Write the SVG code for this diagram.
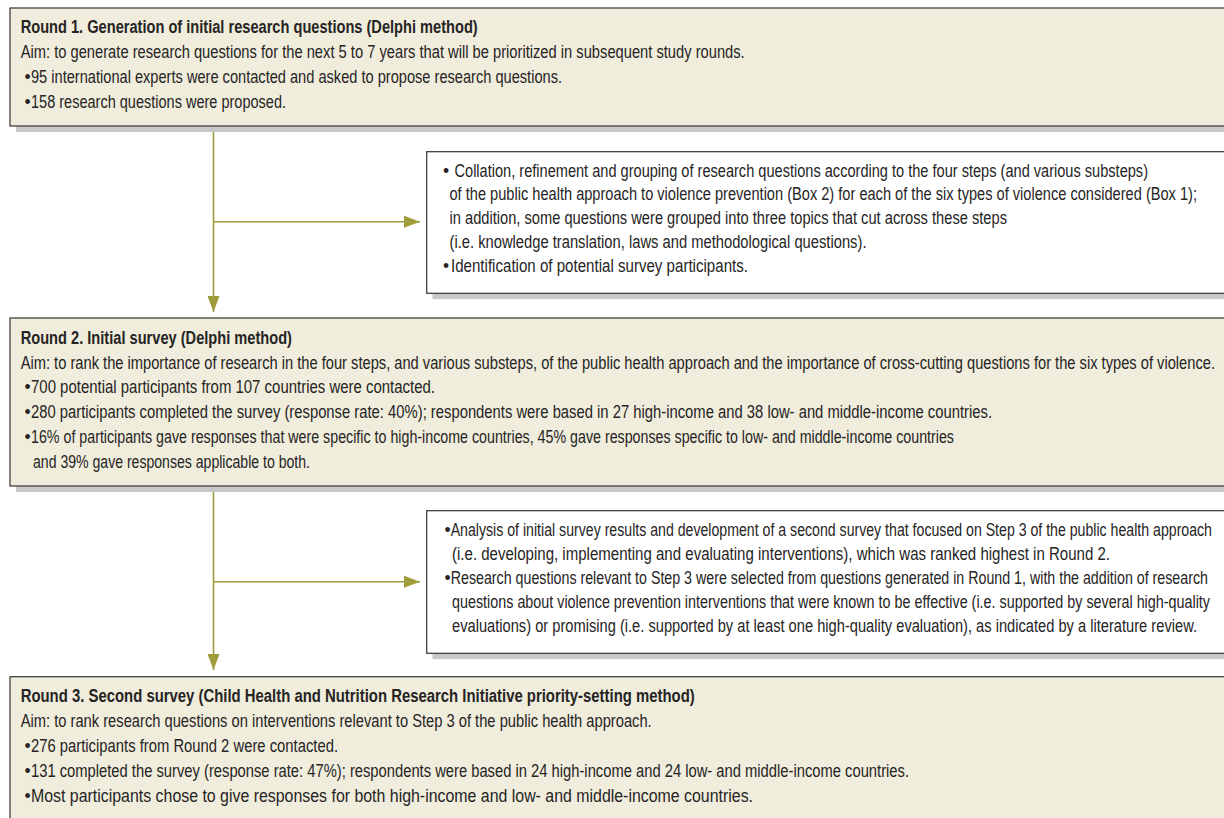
<svg xmlns="http://www.w3.org/2000/svg" width="1224" height="818" viewBox="0 0 1224 818">
<defs>
<style>
.round{fill:#f0eddc;stroke:#333333;stroke-width:1.2}
.side{fill:#ffffff;stroke:#333333;stroke-width:1.2}
.shadow{fill:#c8c8c8}
.t{font-family:"Liberation Sans",Arial,sans-serif;font-size:17.5px;fill:#262424}
.b{font-weight:bold}
.conn{stroke:#a09c3c;stroke-width:1.6;fill:none}
</style>
<marker id="ah" markerUnits="userSpaceOnUse" markerWidth="16" markerHeight="12" refX="16" refY="6" orient="auto" viewBox="0 0 16 12">
<path d="M0,0 L16,6 L0,12 z" fill="#a09c3c"/>
</marker>
</defs>
<rect width="1224" height="818" fill="#ffffff"/>

<g id="connectors">
<line class="conn" x1="213.5" y1="132" x2="213.5" y2="312" marker-end="url(#ah)"/>
<line class="conn" x1="213.5" y1="221.7" x2="420" y2="221.7" marker-end="url(#ah)"/>
<line class="conn" x1="213.5" y1="492" x2="213.5" y2="670" marker-end="url(#ah)"/>
<line class="conn" x1="213.5" y1="581.7" x2="420" y2="581.7" marker-end="url(#ah)"/>
</g>

<g id="round1">
<rect class="shadow" x="16" y="14" width="1230" height="118"/>
<rect class="round" x="10" y="8" width="1230" height="118"/>
<text class="t b" x="20.7" y="33" textLength="457" lengthAdjust="spacingAndGlyphs">Round 1. Generation of initial research questions (Delphi method)</text>
<text class="t" x="20.7" y="58" textLength="724" lengthAdjust="spacingAndGlyphs">Aim: to generate research questions for the next 5 to 7 years that will be prioritized in subsequent study rounds.</text>
<text class="t" y="83"><tspan x="24.5">•</tspan><tspan x="31" textLength="531" lengthAdjust="spacingAndGlyphs">95 international experts were contacted and asked to propose research questions.</tspan></text>
<text class="t" y="108"><tspan x="24.5">•</tspan><tspan x="31" textLength="255" lengthAdjust="spacingAndGlyphs">158 research questions were proposed.</tspan></text>
</g>

<g id="step1">
<rect class="shadow" x="432.5" y="157.5" width="800" height="141.6"/>
<rect class="side" x="426.7" y="151.7" width="800" height="141.6"/>
<text class="t" y="176.5"><tspan x="443">•</tspan><tspan x="454.5" textLength="693.5" lengthAdjust="spacingAndGlyphs">Collation, refinement and grouping of research questions according to the four steps (and various substeps)</tspan></text>
<text class="t" x="449.5" y="200.3" textLength="747.5" lengthAdjust="spacingAndGlyphs">of the public health approach to violence prevention (Box 2) for each of the six types of violence considered (Box 1);</text>
<text class="t" x="449.5" y="224.1" textLength="557.5" lengthAdjust="spacingAndGlyphs">in addition, some questions were grouped into three topics that cut across these steps</text>
<text class="t" x="449.5" y="247.9" textLength="417" lengthAdjust="spacingAndGlyphs">(i.e. knowledge translation, laws and methodological questions).</text>
<text class="t" y="271.7"><tspan x="443">•</tspan><tspan x="451" textLength="297" lengthAdjust="spacingAndGlyphs">Identification of potential survey participants.</tspan></text>
</g>

<g id="round2">
<rect class="shadow" x="16" y="324" width="1230" height="168"/>
<rect class="round" x="10" y="318" width="1230" height="168"/>
<text class="t b" x="20.7" y="344" textLength="271.3" lengthAdjust="spacingAndGlyphs">Round 2. Initial survey (Delphi method)</text>
<text class="t" x="20.7" y="368.5" textLength="1194.3" lengthAdjust="spacingAndGlyphs">Aim: to rank the importance of research in the four steps, and various substeps, of the public health approach and the importance of cross-cutting questions for the six types of violence.</text>
<text class="t" y="393"><tspan x="24.5">•</tspan><tspan x="31" textLength="404" lengthAdjust="spacingAndGlyphs">700 potential participants from 107 countries were contacted.</tspan></text>
<text class="t" y="418"><tspan x="24.5">•</tspan><tspan x="31" textLength="961" lengthAdjust="spacingAndGlyphs">280 participants completed the survey (response rate: 40%); respondents were based in 27 high-income and 38 low- and middle-income countries.</tspan></text>
<text class="t" y="443"><tspan x="24.5">•</tspan><tspan x="31" textLength="923" lengthAdjust="spacingAndGlyphs">16% of participants gave responses that were specific to high-income countries, 45% gave responses specific to low- and middle-income countries</tspan></text>
<text class="t" x="33" y="468" textLength="277" lengthAdjust="spacingAndGlyphs">and 39% gave responses applicable to both.</text>
</g>

<g id="step2">
<rect class="shadow" x="432.5" y="516.5" width="800" height="142.6"/>
<rect class="side" x="426.7" y="510.7" width="800" height="142.6"/>
<text class="t" y="536"><tspan x="444.5">•</tspan><tspan x="450.7" textLength="761.3" lengthAdjust="spacingAndGlyphs">Analysis of initial survey results and development of a second survey that focused on Step 3 of the public health approach</tspan></text>
<text class="t" x="452" y="560" textLength="658" lengthAdjust="spacingAndGlyphs">(i.e. developing, implementing and evaluating interventions), which was ranked highest in Round 2.</text>
<text class="t" y="584"><tspan x="444.5">•</tspan><tspan x="450.7" textLength="757.3" lengthAdjust="spacingAndGlyphs">Research questions relevant to Step 3 were selected from questions generated in Round 1, with the addition of research</tspan></text>
<text class="t" x="452" y="608" textLength="758" lengthAdjust="spacingAndGlyphs">questions about violence prevention interventions that were known to be effective (i.e. supported by several high-quality</text>
<text class="t" x="452" y="632" textLength="745" lengthAdjust="spacingAndGlyphs">evaluations) or promising (i.e. supported by at least one high-quality evaluation), as indicated by a literature review.</text>
</g>

<g id="round3">
<rect class="shadow" x="16" y="682.7" width="1230" height="160"/>
<rect class="round" x="10" y="676.7" width="1230" height="160"/>
<text class="t b" x="20.7" y="702" textLength="674" lengthAdjust="spacingAndGlyphs">Round 3. Second survey (Child Health and Nutrition Research Initiative priority-setting method)</text>
<text class="t" x="20.7" y="727" textLength="631" lengthAdjust="spacingAndGlyphs">Aim: to rank research questions on interventions relevant to Step 3 of the public health approach.</text>
<text class="t" y="752"><tspan x="24.5">•</tspan><tspan x="31" textLength="307" lengthAdjust="spacingAndGlyphs">276 participants from Round 2 were contacted.</tspan></text>
<text class="t" y="777"><tspan x="24.5">•</tspan><tspan x="31" textLength="878" lengthAdjust="spacingAndGlyphs">131 completed the survey (response rate: 47%); respondents were based in 24 high-income and 24 low- and middle-income countries.</tspan></text>
<text class="t" y="802"><tspan x="24.5">•</tspan><tspan x="31" textLength="722" lengthAdjust="spacingAndGlyphs">Most participants chose to give responses for both high-income and low- and middle-income countries.</tspan></text>
</g>
</svg>
